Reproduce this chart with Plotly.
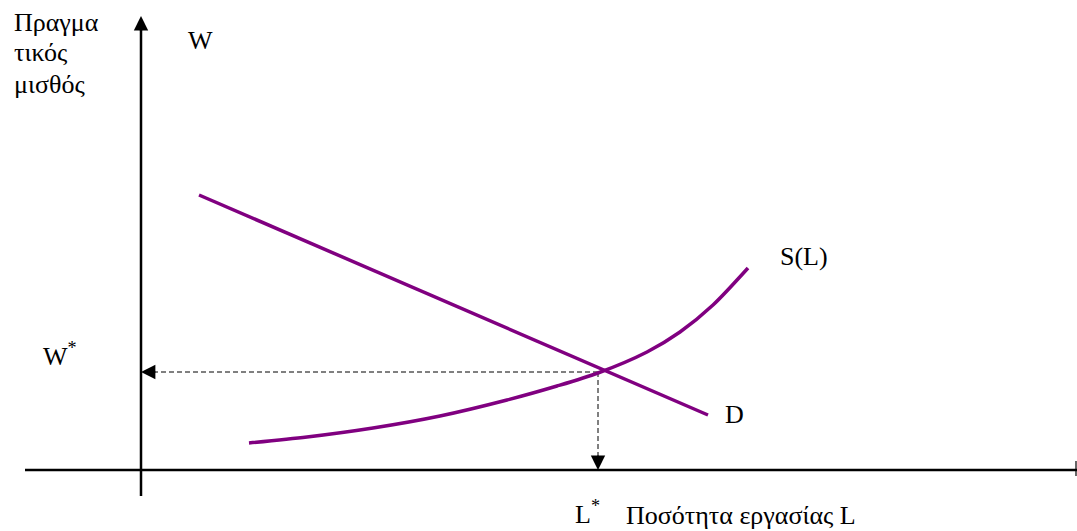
import plotly.graph_objects as go

# Data (L = quantity of labour, W = real wage), in chart units
supply_L = [108, 166, 232, 299, 366, 416, 457, 506, 539, 572, 607]
supply_W = [27, 33, 42, 54, 70, 84, 97, 118, 138, 165, 202]
demand_L = [58, 567]
demand_W = [275, 55]
eq_L = 457
eq_W = 98

x_axis_L = [-116, 936]
y_axis_W = [-26, 454]

PURPLE = "#800080"
FONT = "Liberation Serif"

fig = go.Figure()

# Axes
fig.add_trace(go.Scatter(x=x_axis_L, y=[0, 0], mode="lines",
                         line=dict(color="black", width=2.5), hoverinfo="skip"))
fig.add_trace(go.Scatter(x=[0, 0], y=[y_axis_W[0], y_axis_W[1] - 10], mode="lines",
                         line=dict(color="black", width=2.5), hoverinfo="skip"))
# end tick of the horizontal axis
fig.add_trace(go.Scatter(x=[x_axis_L[1] - 1, x_axis_L[1] - 1], y=[-6, 9], mode="lines",
                         line=dict(color="black", width=1.2), hoverinfo="skip"))

# Dashed guides
fig.add_trace(go.Scatter(x=[12, eq_L], y=[eq_W, eq_W], mode="lines",
                         line=dict(color="black", width=1, dash="5px,3px"), hoverinfo="skip"))
fig.add_trace(go.Scatter(x=[eq_L, eq_L], y=[eq_W, 12], mode="lines",
                         line=dict(color="black", width=1, dash="5px,3px"), hoverinfo="skip"))

# Curves
fig.add_trace(go.Scatter(x=demand_L, y=demand_W, mode="lines",
                         line=dict(color=PURPLE, width=3.5), hoverinfo="skip"))
fig.add_trace(go.Scatter(x=supply_L, y=supply_W, mode="lines",
                         line=dict(color=PURPLE, width=3.5, shape="spline", smoothing=0.8),
                         hoverinfo="skip"))

annotations = []
# Arrow heads
annotations.append(dict(x=0, y=y_axis_W[1], ax=0, ay=y_axis_W[1] - 16, xref="x", yref="y",
                        axref="x", ayref="y", showarrow=True, arrowhead=2, arrowsize=1.15,
                        arrowwidth=2.5, arrowcolor="black", text=""))
annotations.append(dict(x=0, y=eq_W, ax=16, ay=eq_W, xref="x", yref="y",
                        axref="x", ayref="y", showarrow=True, arrowhead=2, arrowsize=2.4,
                        arrowwidth=1.2, arrowcolor="black", text=""))
annotations.append(dict(x=eq_L, y=0, ax=eq_L, ay=16, xref="x", yref="y",
                        axref="x", ayref="y", showarrow=True, arrowhead=2, arrowsize=2.4,
                        arrowwidth=1.2, arrowcolor="black", text=""))


def label(text, x, y, xanchor="left", size=26):
    annotations.append(dict(text=text, x=x, y=y, xref="x", yref="y", showarrow=False,
                            xanchor=xanchor, yanchor="middle",
                            font=dict(family=FONT, size=size, color="black")))


label("Πραγμα", -129, 448)
label("τικός", -129, 418)
label("μισθός", -129, 386)
label("W", 45, 430)
label("W<sup>*</sup>", -100, 116)
label("S(L)", 637, 214)
label("D", 582, 56)
label("L<sup>*</sup>", 432, -42)
label("Ποσότητα εργασίας L", 483, -45)

fig.update_layout(
    width=1077, height=531, margin=dict(l=0, r=0, t=0, b=0),
    plot_bgcolor="white", paper_bgcolor="white", showlegend=False,
    xaxis=dict(range=[-141, 936], visible=False, fixedrange=True),
    yaxis=dict(range=[-61, 470], visible=False, fixedrange=True),
    annotations=annotations,
)

fig.write_html("out.html", config={"displayModeBar": False},
               post_script="document.body.style.margin='0';document.body.style.overflow='hidden';")
